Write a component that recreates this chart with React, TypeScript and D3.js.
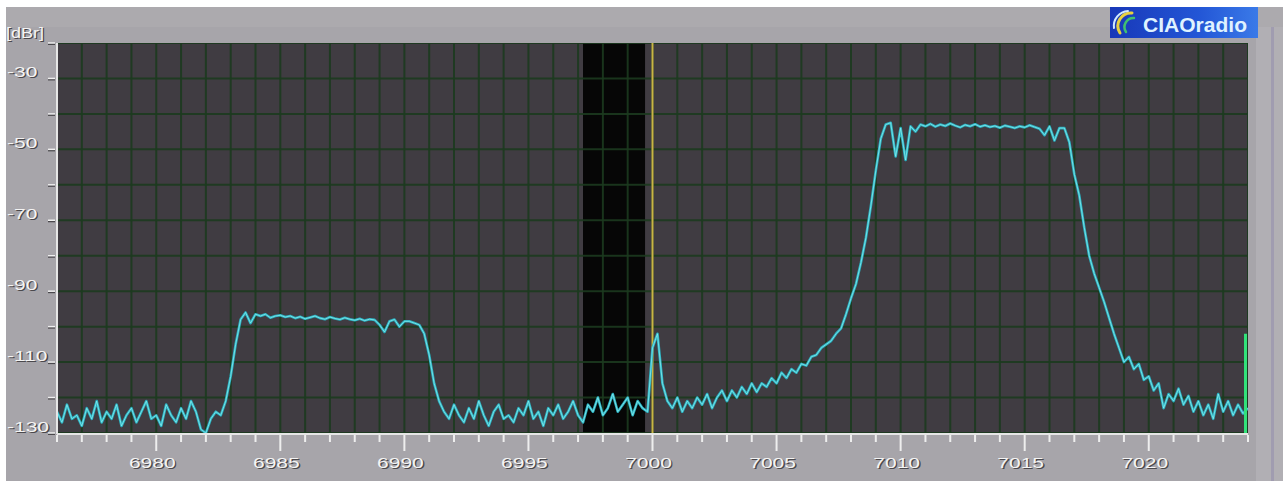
import React from "react";
import * as d3 from "d3";

// Frequency axis (kHz) and level axis (dBr)
const freqDomain = [6976, 7024];
const levelDomain = [-130, -20];
const xTickLabels = [6980, 6985, 6990, 6995, 7000, 7005, 7010, 7015, 7020];
const yTickLabels = [-30, -50, -70, -90, -110, -130];
const yUnit = "[dBr]";
const title = "CIAOradio";

// receiver passband (black band) and tuned frequency marker
const passband = [6997.2, 6999.7];
const markerFreq = 7000;
const levelBar = { freq: 7023.9, value: -102 };

// spectrum trace: levels every 0.2 kHz starting at 6976.0
const traceStart = 6976;
const traceStep = 0.2;
const traceLevels = [
  // 6976.0 - 6977.8
  -124, -127, -122, -126, -125, -128, -123, -126, -121, -127,
  // 6978.0 - 6979.8
  -124, -126, -122, -128, -125, -123, -127, -124, -121, -126,
  // 6980.0 - 6981.8
  -125, -128, -122, -125, -127, -123, -126, -121, -124, -129,
  // 6982.0 - 6983.8
  -130, -126, -124, -125, -121, -114, -105, -98, -96, -99,
  // 6984.0 - 6985.8
  -96.5, -97, -96.5, -97.5, -97, -96.8, -97.3, -97, -97.6, -97.2,
  // 6986.0 - 6987.8
  -97.8, -97.4, -97, -97.6, -97.9, -97.3, -97.7, -98, -97.5, -97.9,
  // 6988.0 - 6989.8
  -98.2, -97.8, -98.3, -97.9, -98.1, -99.5, -101.5, -98.5, -98, -100,
  // 6990.0 - 6991.8
  -98.5, -98.5, -99, -99.5, -102, -108, -116, -121, -124, -126,
  // 6992.0 - 6993.8
  -122, -125, -127, -123, -126, -121, -125, -128, -124, -122,
  // 6994.0 - 6995.8
  -126, -125, -127, -123, -125, -121, -126, -124, -128, -123,
  // 6996.0 - 6997.8
  -125, -122, -126, -124, -121, -125, -127, -122, -124, -120,
  // 6998.0 - 6999.8
  -125, -123, -119, -124, -122, -120, -125, -121, -123, -124,
  // 7000.0 - 7001.8
  -106, -102, -116, -121, -123, -120, -124, -121, -123, -120,
  // 7002.0 - 7003.8
  -122, -119, -123, -120, -118, -121, -118, -120, -117, -119,
  // 7004.0 - 7005.8
  -116, -118.5, -116, -117, -114.5, -116, -113, -114.5, -112, -113,
  // 7006.0 - 7007.8
  -110.5, -111, -108.5, -108, -106, -105, -104, -102, -100.5, -96.5,
  // 7008.0 - 7009.8
  -92, -88, -82, -75, -66, -56, -47, -43, -42.5, -52,
  // 7010.0 - 7011.8
  -44, -53, -43.5, -45, -43, -43.5, -42.8, -43.6, -43, -43.4,
  // 7012.0 - 7013.8
  -42.7, -43.3, -43.8, -43.1, -43.5, -42.9, -43.6, -43.2, -43.7, -43.4,
  // 7014.0 - 7015.8
  -43.9, -43.3, -43.6, -44, -43.5, -43.8, -43.2, -43.7, -44.2, -46,
  // 7016.0 - 7017.8
  -43.5, -47.5, -44, -44, -48, -57, -63, -72, -80, -85,
  // 7018.0 - 7019.8
  -89, -93, -97.5, -102, -106, -110, -108.5, -112, -110.5, -115,
  // 7020.0 - 7021.8
  -114, -118, -116, -123, -119, -121, -117.5, -122, -119.5, -124,
  // 7022.0 - 7024.0
  -121, -125, -122, -126, -119, -124, -121, -125, -122, -124.5, -123,
];

const W = 1283;
const H = 481;
const plot = { left: 57, right: 1248, top: 43, bottom: 433 };

const FONT = "'Liberation Sans', Arial, sans-serif";

function Embossed({ x, y, text, anchor = "start", size = 15, sx = 1.4 }) {
  return (
    <g transform={`translate(${x},${y}) scale(${sx},1)`}>
      <text x={1} y={1} fontSize={size} fontFamily={FONT} fill="#4a484c" textAnchor={anchor}>
        {text}
      </text>
      <text x={0} y={0} fontSize={size} fontFamily={FONT} fill="#f4f4f4" textAnchor={anchor}>
        {text}
      </text>
    </g>
  );
}

export default function App() {
  const x = d3.scaleLinear().domain(freqDomain).range([plot.left, plot.right]);
  const y = d3.scaleLinear().domain(levelDomain).range([plot.bottom, plot.top]);

  const data = traceLevels.map((v, i) => [traceStart + i * traceStep, v]);
  const line = d3
    .line()
    .x((d) => x(d[0]))
    .y((d) => y(d[1]));
  const path = line(data);

  const vGrid = d3.range(freqDomain[0], freqDomain[1] + 0.001, 1);
  const hGrid = d3.range(levelDomain[0], levelDomain[1] + 0.001, 10);

  return (
    <svg
      width={W}
      height={H}
      style={{ position: "absolute", left: 0, top: 0, display: "block" }}
    >
      <defs>
        <linearGradient id="logoGrad" x1="0" x2="1" y1="0" y2="0">
          <stop offset="0" stopColor="#1838b8" />
          <stop offset="0.6" stopColor="#2356d6" />
          <stop offset="1" stopColor="#3a7ae8" />
        </linearGradient>
        <clipPath id="plotClip">
          <rect x={plot.left} y={plot.top} width={plot.right - plot.left} height={plot.bottom - plot.top} />
        </clipPath>
      </defs>

      {/* page background */}
      <rect x={0} y={0} width={W} height={H} fill="#a7a5aa" />
      <rect x={0} y={0} width={W} height={7} fill="#ffffff" />
      <rect x={0} y={0} width={6} height={H} fill="#ffffff" />
      <rect x={6} y={7} width={W - 6} height={20} fill="#acaaae" />
      <rect x={1256} y={27} width={27} height={H - 27} fill="#b1afb4" />
      <rect x={1271} y={27} width={3} height={H - 27} fill="#a09cb0" />

      {/* plot area */}
      <rect x={plot.left} y={plot.top} width={plot.right - plot.left} height={plot.bottom - plot.top} fill="#403c42" />
      <rect
        x={x(passband[0])}
        y={plot.top}
        width={x(passband[1]) - x(passband[0])}
        height={plot.bottom - plot.top}
        fill="#060606"
      />

      {/* grid */}
      <g clipPath="url(#plotClip)">
        {vGrid.map((f) => (
          <line key={"v" + f} x1={x(f)} x2={x(f)} y1={plot.top} y2={plot.bottom} stroke="#1c3a1f" strokeWidth={2} opacity={0.9} />
        ))}
        {hGrid.map((v) => (
          <line key={"h" + v} x1={plot.left} x2={plot.right} y1={y(v)} y2={y(v)} stroke="#1c3a1f" strokeWidth={2} opacity={0.9} />
        ))}
      </g>

      {/* tuned marker */}
      <line x1={x(markerFreq)} x2={x(markerFreq)} y1={plot.top} y2={plot.bottom} stroke="#c9b445" strokeWidth={2} />

      {/* trace */}
      <g clipPath="url(#plotClip)">
        <path d={path} fill="none" stroke="#2ab0c0" strokeWidth={2.6} strokeLinejoin="round" />
        <path d={path} fill="none" stroke="#8ef0f2" strokeWidth={1} strokeLinejoin="round" opacity={0.75} />
      </g>

      {/* level bar */}
      <line
        x1={x(levelBar.freq)}
        x2={x(levelBar.freq)}
        y1={y(levelBar.value)}
        y2={plot.bottom}
        stroke="#32e27a"
        strokeWidth={3}
      />

      {/* axes lines */}
      <line x1={plot.left} x2={plot.left} y1={plot.top} y2={plot.bottom + 1} stroke="#e6e6e6" strokeWidth={2} />
      <line x1={plot.left} x2={plot.right} y1={plot.bottom + 1} y2={plot.bottom + 1} stroke="#e6e6e6" strokeWidth={2} />

      {/* x ticks */}
      {vGrid.map((f) => {
        const major = Math.round(f) % 5 === 0;
        return (
          <line
            key={"xt" + f}
            x1={x(f)}
            x2={x(f)}
            y1={plot.bottom + 2}
            y2={plot.bottom + (major ? 18 : 9)}
            stroke="#eeeeee"
            strokeWidth={2}
          />
        );
      })}
      {xTickLabels.map((f) => (
        <Embossed key={"xl" + f} x={x(f) - 4} y={468} text={String(f)} anchor="middle" />
      ))}

      {/* y ticks */}
      {hGrid.map((v) => (
        <g key={"yt" + v}>
          <line x1={48} x2={55} y1={y(v) + 1} y2={y(v) + 1} stroke="#4a484c" strokeWidth={2} />
          <line x1={48} x2={55} y1={y(v)} y2={y(v)} stroke="#f0f0f0" strokeWidth={1.5} />
        </g>
      ))}
      {yTickLabels.map((v) => (
        <Embossed key={"yl" + v} x={7} y={y(v) - 1} text={String(v)} />
      ))}
      <Embossed x={6} y={y(levelDomain[1]) - 5} text={yUnit} sx={1.2} />

      {/* logo */}
      <rect x={1110} y={7} width={148} height={31} fill="url(#logoGrad)" />
      <g fill="none" strokeLinecap="round">
        <path d="M1132,13 A13,13 0 0 0 1120,33" stroke="#e8d040" strokeWidth={3} />
        <path d="M1134,18 A9,9 0 0 0 1126,32" stroke="#40c070" strokeWidth={2.5} />
        <path d="M1128,11 A15,15 0 0 0 1114,28" stroke="#d0e8ff" strokeWidth={2} />
      </g>
      <text
        x={1143}
        y={32}
        fontFamily={FONT}
        fontWeight="bold"
        fontSize={21}
        fill="#dff2ff"
        textLength={104}
        lengthAdjust="spacingAndGlyphs"
      >
        {title}
      </text>
    </svg>
  );
}
